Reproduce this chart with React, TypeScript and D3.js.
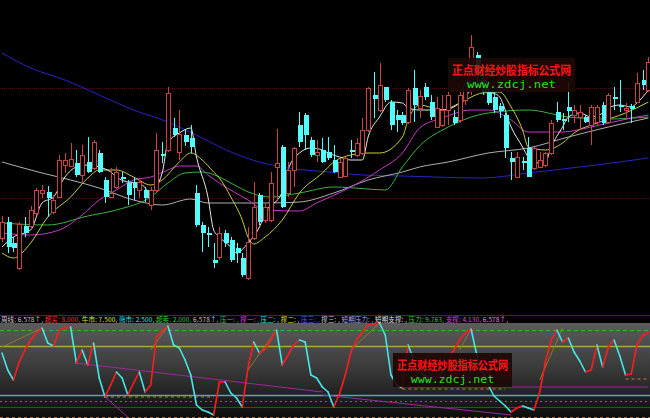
import * as d3 from 'd3';
import React, { useEffect, useRef } from 'react';

// [open, high, low, close]
const candles: [number, number, number, number][] = [
  [6.2, 8.4, 5.8, 7.8], [7.8, 8.3, 4.7, 5.3], [5.7, 6.3, 4.8, 5.2], [3.2, 7.8, 3.0, 7.6],
  [7.4, 8.3, 6.3, 6.7], [7.4, 9.4, 7.1, 9.0], [8.7, 11.2, 8.5, 11.0], [10.7, 11.5, 10.2, 11.0],
  [10.8, 11.4, 8.3, 10.2], [8.8, 10.5, 8.6, 10.0], [10.3, 14.5, 10.2, 14.0], [13.5, 14.7, 12.7, 14.0],
  [13.4, 15.7, 13.3, 14.1], [13.7, 15.0, 12.3, 12.5], [12.5, 15.5, 11.8, 14.5], [13.8, 16.3, 12.7, 12.8],
  [13.2, 16.0, 13.0, 15.8], [14.7, 15.0, 12.7, 12.8], [12.0, 12.3, 9.7, 10.3], [10.3, 13.2, 10.2, 10.7],
  [11.3, 13.3, 11.1, 12.8], [12.3, 12.8, 11.7, 12.1], [11.7, 12.0, 9.5, 10.5], [11.8, 12.3, 10.0, 11.2],
  [11.0, 12.0, 10.2, 11.8], [11.0, 11.3, 9.8, 10.2], [9.5, 11.3, 9.0, 11.0], [11.0, 16.7, 10.8, 15.0],
  [14.6, 15.8, 13.7, 14.4], [15.0, 21.3, 14.8, 20.7], [17.2, 18.2, 16.3, 16.5], [14.8, 19.0, 14.0, 16.6],
  [16.5, 17.0, 15.4, 15.8], [16.2, 17.5, 14.7, 15.3], [10.7, 11.5, 7.3, 7.5], [7.5, 7.8, 4.8, 6.7],
  [6.7, 7.3, 5.3, 6.5], [4.0, 5.7, 3.2, 3.7], [4.3, 7.3, 4.0, 6.7], [6.7, 7.0, 5.3, 5.7],
  [6.0, 6.3, 3.8, 4.0], [5.2, 5.7, 3.7, 4.7], [4.2, 4.7, 2.3, 2.5], [2.2, 7.3, 2.0, 5.8],
  [6.2, 11.8, 6.0, 9.3], [10.5, 10.7, 7.5, 7.8], [8.0, 9.7, 7.7, 9.3], [8.0, 12.8, 7.8, 11.7],
  [13.3, 17.1, 10.0, 13.7], [15.3, 15.5, 9.2, 9.3], [10.7, 13.8, 10.3, 13.0], [13.0, 15.3, 11.3, 15.2],
  [17.5, 18.8, 15.3, 15.8], [18.5, 18.7, 15.0, 16.5], [16.0, 16.3, 14.3, 14.5], [14.5, 16.0, 13.8, 14.8],
  [15.0, 16.2, 13.7, 13.8], [14.8, 16.3, 14.0, 14.2], [14.0, 15.5, 12.7, 12.8], [12.3, 14.2, 12.2, 13.8],
  [12.4, 14.3, 12.3, 14.2], [15.0, 16.0, 14.2, 14.8], [14.5, 16.2, 14.3, 15.7], [14.7, 18.2, 14.5, 17.0],
  [17.0, 21.3, 16.8, 21.2], [20.5, 22.8, 18.2, 20.1], [19.0, 23.7, 18.8, 21.5], [21.3, 21.3, 19.8, 20.0],
  [19.8, 20.0, 17.0, 17.5], [18.5, 19.0, 16.8, 18.0], [18.5, 18.8, 17.5, 17.7], [17.8, 21.2, 17.6, 21.0],
  [21.2, 23.0, 17.8, 19.5], [19.2, 21.0, 18.2, 20.4], [21.3, 21.7, 20.0, 20.3], [19.8, 20.5, 18.0, 18.3],
  [17.3, 20.3, 17.2, 19.2], [17.5, 20.5, 17.3, 19.0], [19.0, 20.8, 17.5, 20.5], [18.3, 19.0, 17.5, 17.7],
  [18.0, 20.8, 17.7, 20.5], [20.0, 22.0, 19.5, 21.5], [21.0, 26.5, 20.5, 25.3], [24.5, 24.8, 22.0, 22.5],
  [22.0, 22.5, 20.5, 20.8], [20.8, 21.2, 19.5, 19.7], [20.3, 20.8, 18.7, 19.0], [19.4, 19.7, 18.2, 18.9],
  [18.5, 18.7, 14.2, 15.2], [14.2, 14.8, 12.0, 13.8], [12.3, 14.8, 12.2, 14.3], [13.9, 14.3, 13.0, 13.7],
  [15.2, 16.3, 12.3, 12.3], [13.2, 15.3, 13.0, 15.2], [13.3, 14.8, 13.2, 14.0], [13.5, 14.8, 13.3, 14.7],
  [14.7, 18.0, 14.5, 17.7], [18.8, 19.8, 17.8, 18.0], [18.1, 18.7, 17.0, 17.9], [19.3, 21.8, 17.8, 18.9],
  [18.5, 19.5, 17.7, 19.0], [18.3, 19.5, 17.0, 18.8], [18.3, 18.5, 17.7, 17.8], [17.5, 19.5, 15.5, 19.3],
  [17.8, 19.5, 17.5, 19.3], [19.5, 19.8, 17.5, 17.7], [17.8, 20.7, 17.6, 20.5], [20.3, 21.3, 19.0, 20.1],
  [19.5, 22.0, 18.8, 19.3], [19.0, 19.7, 18.0, 19.2], [19.4, 19.6, 17.7, 19.1], [19.8, 22.7, 19.7, 21.7],
  [22.0, 23.0, 21.0, 21.5], [21.0, 24.3, 20.8, 23.8],
];

// moving averages, [candle index, price]
const ma5: [number, number][] = [
  [0, 5.3], [2, 6.3], [5, 7.0], [7, 9.7], [9, 10.3], [11, 12.3], [13, 13.3], [15, 13.5], [17, 13.3],
  [19, 12.8], [20, 12.3], [22, 11.8], [24, 11.7], [26, 10.8], [28, 12.7], [29, 15.7], [31, 16.7],
  [33, 17.2], [34, 14.3], [36, 10.3], [37, 7.0], [38, 6.3], [40, 5.3], [41, 4.7], [43, 5.7], [45, 7.3],
  [46, 8.7], [49, 10.8], [50, 13.0], [52, 14.7], [54, 15.2], [56, 15.0], [57, 14.7], [59, 14.3],
  [61, 14.0], [63, 14.0], [64, 16.3], [66, 18.3], [68, 19.8], [70, 19.7], [71, 19.2], [73, 19.0],
  [77, 19.0], [80, 19.7], [82, 21.0], [84, 22.0], [85, 21.0], [87, 20.3], [89, 17.3], [91, 15.3],
  [92, 14.3], [94, 13.7], [95, 13.8], [96, 15.3], [98, 17.3], [99, 18.3], [101, 18.7], [103, 18.3],
  [105, 18.7], [106, 19.2], [108, 19.5], [110, 19.3], [111, 19.7], [113, 21.0],
];
const ma10: [number, number][] = [
  [0, 4.7], [2, 4.2], [5, 5.7], [8, 8.3], [12, 10.3], [15, 12.2], [17, 13.0], [20, 13.0], [23, 12.3],
  [26, 11.5], [28, 12.0], [31, 13.8], [33, 14.7], [35, 14.0], [37, 12.8], [38, 12.2], [40, 10.3],
  [42, 8.0], [43, 6.3], [44, 5.6], [46, 6.3], [49, 8.0], [52, 10.7], [56, 12.7], [58, 13.8], [61, 14.5],
  [64, 14.7], [66, 14.7], [70, 16.3], [71, 18.0], [73, 19.5], [77, 19.0], [80, 19.7], [84, 20.7],
  [87, 20.8], [89, 19.3], [91, 17.0], [92, 15.3], [95, 15.0], [98, 15.7], [100, 16.7], [104, 17.7],
  [109, 18.7], [113, 19.8],
];
const ma20: [number, number][] = [
  [0, 6.7], [5, 6.5], [10, 7.0], [14, 8.5], [17, 10.0], [20, 11.0], [23, 12.0], [26, 12.3], [29, 13.0],
  [31, 13.4], [34, 13.4], [36, 12.5], [38, 11.7], [43, 10.0], [46, 9.0], [52, 8.9], [55, 9.7],
  [61, 11.3], [66, 13.0], [70, 14.7], [73, 17.2], [77, 18.2], [82, 19.0], [85, 19.0], [89, 18.0],
  [92, 16.8], [98, 16.8], [103, 17.3], [110, 18.2], [113, 18.5],
];
const ma30: [number, number][] = [
  [0, 7.7], [8, 7.5], [15, 8.4], [20, 9.0], [26, 10.3], [29, 11.7], [32, 12.7], [35, 12.8], [38, 12.3],
  [40, 11.7], [44, 10.6], [47, 10.3], [52, 10.7], [58, 11.3], [64, 11.1], [67, 11.0], [70, 13.3],
  [73, 15.4], [78, 17.3], [85, 18.7], [92, 19.0], [99, 18.3], [106, 18.1], [113, 18.3],
];
const ma60: [number, number][] = [
  [0, 13.8], [7, 12.7], [12, 12.0], [17, 11.2], [23, 10.0], [28, 9.5], [33, 10.1], [36, 9.7], [40, 9.7],
  [46, 9.7], [52, 9.8], [58, 10.7], [64, 12.0], [70, 12.8], [73, 13.3], [78, 13.8], [85, 14.7],
  [92, 15.2], [99, 16.3], [106, 17.3], [113, 18.2],
];
const ma250: [number, number][] = [
  [0, 24.7], [5, 23.2], [11, 22.0], [17, 20.5], [23, 19.0], [29, 17.8], [35, 16.2], [40, 14.8],
  [45, 13.8], [50, 13.2], [57, 12.8], [63, 12.5], [70, 12.4], [84, 12.2], [92, 12.7], [101, 13.3],
  [108, 13.8], [113, 14.2],
];

const priceLevels = [21.2, 10.2];

// sub-panel oscillator, one value per candle
const oscillator = [
  6.7, 5.0, 4.0, 5.8, 7.0, 8.0, 8.7, 9.2, 7.7, 7.4, 9.0, 9.2, 9.3, 5.7, 7.0, 5.5, 7.7, 4.2, 2.3, 3.5,
  4.8, 4.2, 2.5, 3.7, 4.8, 2.8, 3.5, 8.3, 8.9, 9.4, 7.5, 7.2, 6.0, 4.5, 1.5, 1.0, 0.8, 0.5, 3.8, 3.8,
  2.7, 2.2, 1.3, 5.2, 7.8, 6.7, 7.1, 8.0, 9.0, 5.5, 6.5, 7.5, 8.0, 7.8, 4.5, 4.2, 3.3, 2.8, 1.3, 2.6,
  4.5, 6.8, 8.0, 8.8, 9.5, 9.6, 9.7, 8.5, 4.5, 3.5, 3.2, 7.5, 6.0, 4.8, 4.4, 4.2, 4.0, 4.8, 6.0, 7.0,
  8.0, 8.7, 9.1, 6.5, 4.8, 3.5, 2.4, 1.9, 1.4, 0.8, 1.2, 1.4, 1.2, 1.0, 2.8, 5.8, 8.0, 9.0, 7.8, 8.2,
  6.8, 5.9, 4.8, 5.0, 7.5, 5.3, 7.3, 8.0, 6.4, 4.5, 4.6, 7.5, 8.4, 8.8,
];

const overBought = 9.0;
const bullLine = 7.4;
const bearLine = 2.5;
const floorLines = [1.9, 1.3, 0.3];

// [[i0, v0], [i1, v1]]
const supportSegments: [number, number][][] = [
  [[18, 2.3], [37, 2.3]], [[70, 3.1], [88, 3.1]], [[109, 4.1], [113, 4.1]],
];
const trendSegments: [number, number][][] = [
  [[13, 5.7], [56, 2.8]], [[18, 2.3], [22, 0.3]], [[56, 2.5], [89, 0.5]], [[71, 3.3], [113, 3.3]],
];
const riseSegments: [number, number][][] = [
  [[0, 7.3], [7, 9.2]], [[26, 7.0], [29, 9.4]], [[43, 5.0], [48, 9.0]], [[61, 7.0], [66, 9.7]],
  [[80, 7.0], [82, 9.1]], [[94, 4.0], [98, 9.2]],
];

const legendLabels = ['周线', '超买', '牛市', '熊市', '超卖', '', '压一', '撑一', '压二', '撑二', '压三', '撑三', '短期压力', '短期支撑', '压力', '支撑', ''];
const legendValues = ['6.578↑', '8.000', '7.500', '2.500', '2.000', '6.578↑', '', '', '', '', '', '', '', '', '9.763', '4.130', '6.578↑'];
const legendColors = ['#d0d0d0', '#ff3434', '#e6e636', '#36e0e0', '#36d036', '#c8c8c8', '#36c036', '#e040e0', '#36e0e0', '#e6e636', '#5a5aff', '#d0d0d0', '#a8a8ff', '#e0e0e0', '#36d036', '#e040e0', '#ff80ff'];

const watermarkTitle = '正点财经炒股指标公式网';
const watermarkUrl = 'www.zdcj.net';

const Chart: React.FC = () => {
  const svgRef = useRef<SVGSVGElement | null>(null);

  useEffect(() => {
    if (!svgRef.current) return;
    document.body.style.margin = '0';
    document.body.style.background = '#000';

    const width = 650;
    const height = 418;
    const svg = d3.select(svgRef.current);
    svg.selectAll('*').remove();
    svg.attr('width', width).attr('height', height).attr('viewBox', `0 0 ${width} ${height}`);

    const x = d3.scaleLinear().domain([0, candles.length - 1]).range([2, 648.4]);
    const y = d3.scaleLinear().domain([0, 30]).range([300, 0]);
    const y2 = d3.scaleLinear().domain([0, 10]).range([420, 320]);

    svg.append('rect').attr('width', width).attr('height', height).attr('fill', '#000');

    // sub panel background
    const grad = svg.append('defs').append('linearGradient')
      .attr('id', 'subBg').attr('x1', 0).attr('y1', 0).attr('x2', 0).attr('y2', 1);
    grad.append('stop').attr('offset', '0%').attr('stop-color', '#5c5c5c');
    grad.append('stop').attr('offset', '45%').attr('stop-color', '#3c3c3c');
    grad.append('stop').attr('offset', '100%').attr('stop-color', '#0c0c0c');
    svg.append('rect').attr('x', 0).attr('y', 323).attr('width', width).attr('height', height - 323)
      .attr('fill', 'url(#subBg)');

    svg.append('line').attr('x1', 0).attr('x2', width).attr('y1', 315.5).attr('y2', 315.5)
      .attr('stroke', '#8c0a0a').attr('stroke-width', 1);

    // main grid
    svg.selectAll('line.level').data(priceLevels).enter().append('line')
      .attr('x1', 0).attr('x2', width)
      .attr('y1', (d) => Math.round(y(d)) + 0.5).attr('y2', (d) => Math.round(y(d)) + 0.5)
      .attr('stroke', '#5a0808').attr('stroke-dasharray', '1,1');

    // moving averages
    const maLine = d3.line<[number, number]>().x((d) => x(d[0])).y((d) => y(d[1])).curve(d3.curveMonotoneX);
    const maSets: [[number, number][], string][] = [
      [ma250, '#2626c8'], [ma60, '#b0b0b0'], [ma30, '#3cb43c'], [ma20, '#c838c8'], [ma10, '#cccc3c'], [ma5, '#e8e8e8'],
    ];
    maSets.forEach(([data, color]) => {
      svg.append('path').attr('d', maLine(data)).attr('fill', 'none').attr('stroke', color).attr('stroke-width', 1);
    });

    // candles
    const g = svg.append('g').attr('shape-rendering', 'crispEdges');
    candles.forEach(([o, h, l, c], i) => {
      const px = Math.round(x(i));
      const up = c >= o;
      const top = y(Math.max(o, c));
      const bot = y(Math.min(o, c));
      if (up) {
        const col = '#c84444';
        g.append('line').attr('x1', px + 0.5).attr('x2', px + 0.5).attr('y1', y(h)).attr('y2', top).attr('stroke', col);
        g.append('line').attr('x1', px + 0.5).attr('x2', px + 0.5).attr('y1', bot).attr('y2', y(l)).attr('stroke', col);
        g.append('rect').attr('x', px - 1.5).attr('y', top).attr('width', 4).attr('height', Math.max(1, bot - top))
          .attr('fill', '#000').attr('stroke', col);
      } else {
        const col = '#54fcfc';
        g.append('line').attr('x1', px + 0.5).attr('x2', px + 0.5).attr('y1', y(h)).attr('y2', y(l)).attr('stroke', col);
        g.append('rect').attr('x', px - 1.5).attr('y', top).attr('width', 5).attr('height', Math.max(1, bot - top))
          .attr('fill', col);
      }
    });

    // sub panel reference lines
    const hLine = (v: number, color: string, dash: string | null, w = 1) => {
      const ln = svg.append('line').attr('x1', 0).attr('x2', width)
        .attr('y1', Math.round(y2(v)) + 0.5).attr('y2', Math.round(y2(v)) + 0.5)
        .attr('stroke', color).attr('stroke-width', w);
      if (dash) ln.attr('stroke-dasharray', dash);
    };
    hLine(overBought, '#34b434', '4,3');
    hLine(bullLine, '#a8a83c', null, 1.5);
    hLine(bearLine, '#3cb4b4', null, 1.5);
    hLine(floorLines[0], '#6a6a6a', '2,3');
    hLine(floorLines[1], '#7a1a7a', null);
    hLine(floorLines[2], '#b0642c', '3,3');

    const segLine = d3.line<[number, number]>().x((d) => x(d[0])).y((d) => y2(d[1]));
    supportSegments.forEach((s) => {
      svg.append('path').attr('d', segLine(s)).attr('stroke', '#c8783c').attr('stroke-dasharray', '3,3').attr('fill', 'none');
    });
    trendSegments.forEach((s) => {
      svg.append('path').attr('d', segLine(s)).attr('stroke', '#9a2a9a').attr('fill', 'none');
    });
    riseSegments.forEach((s) => {
      svg.append('path').attr('d', segLine(s)).attr('stroke', '#8a7a2c').attr('fill', 'none');
    });

    // oscillator: red while rising, cyan while falling
    oscillator.forEach((v, i) => {
      if (i === 0) return;
      const prev = oscillator[i - 1];
      svg.append('line')
        .attr('x1', x(i - 1)).attr('y1', y2(prev)).attr('x2', x(i)).attr('y2', y2(v))
        .attr('stroke', v >= prev ? '#ff1e1e' : '#46e6e6')
        .attr('stroke-width', 1.6).attr('stroke-linecap', 'round');
    });

    // legend strip
    const legend = svg.append('text').attr('x', 1).attr('y', 321.5)
      .attr('font-family', '"Noto Sans CJK SC", sans-serif').attr('font-size', 6.5)
      .attr('textLength', 507).attr('lengthAdjust', 'spacing');
    legendLabels.forEach((label, i) => {
      const txt = (label ? `${label}: ` : '') + `${legendValues[i]}, `;
      legend.append('tspan').attr('fill', legendColors[i]).text(txt);
    });

    // watermarks
    const watermark = (bx: number, by: number, bw: number) => {
      const wm = svg.append('g');
      wm.append('rect').attr('x', bx).attr('y', by).attr('width', bw).attr('height', 34)
        .attr('fill', '#1e0808').attr('opacity', 0.92);
      wm.append('text').attr('x', bx + bw / 2).attr('y', by + 17).attr('text-anchor', 'middle')
        .attr('font-family', '"Noto Sans CJK SC", sans-serif').attr('font-size', 12).attr('font-weight', 'bold')
        .attr('fill', '#ff1414').attr('textLength', bw - 8).attr('lengthAdjust', 'spacingAndGlyphs')
        .text(watermarkTitle);
      wm.append('text').attr('x', bx + bw / 2).attr('y', by + 30).attr('text-anchor', 'middle')
        .attr('font-family', '"DejaVu Sans Mono", monospace').attr('font-size', 10)
        .attr('fill', '#22e022').attr('textLength', bw * 0.7).attr('lengthAdjust', 'spacingAndGlyphs')
        .text(watermarkUrl);
    };
    watermark(448, 58, 127);
    watermark(393, 353, 119);
  }, []);

  return (
    <svg ref={svgRef} style={{ position: 'absolute', left: 0, top: 0, display: 'block' }}>
      {/* drawn in useEffect */}
    </svg>
  );
};

export default function App() {
  return <Chart />;
}
